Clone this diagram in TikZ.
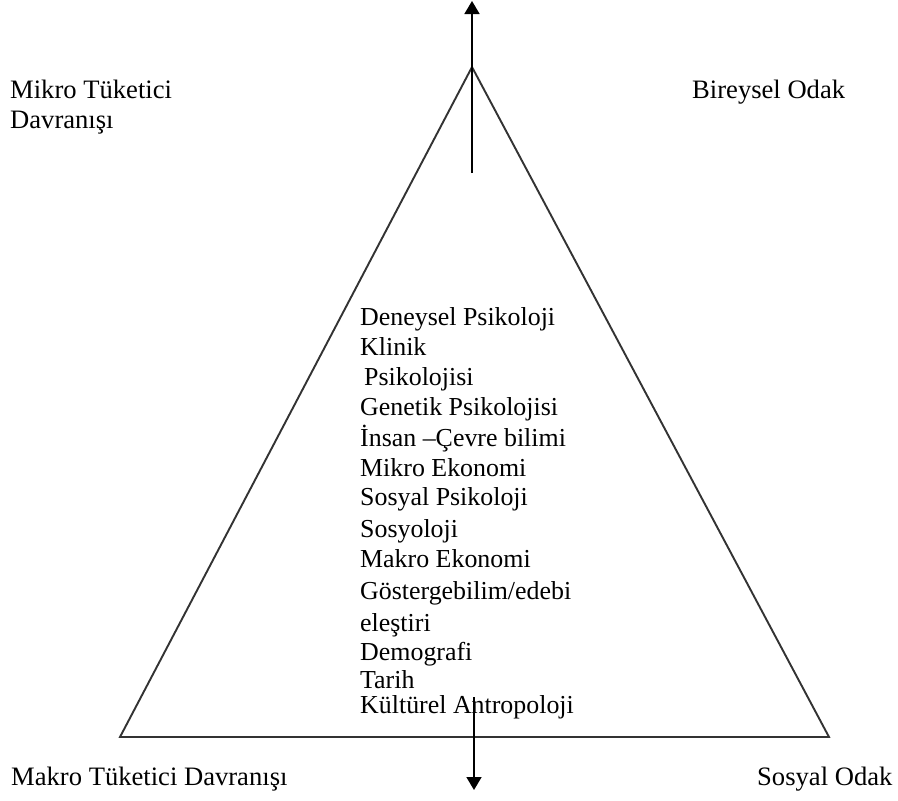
\documentclass[tikz,border=0pt]{standalone}
\usepackage{fontspec}
\setmainfont{Liberation Serif}
\usetikzlibrary{arrows.meta}
\begin{document}
\begin{tikzpicture}[x=1pt,y=-1pt,
  edge/.style={line width=1.9pt,draw=black!80},
  axis/.style={line width=1.6pt,-{Triangle[length=13pt,width=15pt]}},
  lbl/.style={anchor=base west,inner sep=0pt,font=\fontsize{26.6}{30}\selectfont},
  item/.style={anchor=base west,inner sep=0pt,font=\fontsize{25.9}{30}\selectfont}]
  \useasboundingbox[fill=white] (0,0) rectangle (898,801);

  % triangle corners
  \coordinate (apex) at (472,67);
  \coordinate (bl) at (120,737);
  \coordinate (br) at (829,737);
  \draw[edge,line join=miter] (apex) -- (bl) -- (br) -- cycle;

  % vertical axis arrows
  \coordinate (upfrom) at (472,173);
  \coordinate (upto) at (472,1);
  \coordinate (downfrom) at (474,697);
  \coordinate (downto) at (474,790);
  \draw[axis] (upfrom) -- (upto);
  \draw[axis] (downfrom) -- (downto);

  % corner labels
  \node[lbl] (mikro) at (10,98) {Mikro Tüketici};
  \node[lbl] (mikro2) at (10,128) {Davranışı};
  \node[lbl] (bireysel) at (692,98) {Bireysel Odak};
  \node[lbl] (makro) at (11,785) {Makro Tüketici Davranışı};
  \node[lbl] (sosyal) at (757,785) {Sosyal Odak};

  % disciplines, top (individual) to bottom (social)
  \foreach \y/\t [count=\i] in {
    325/{Deneysel Psikoloji},
    355/{Klinik},
    385/{\hspace*{4pt}Psikolojisi},
    415/{Genetik Psikolojisi},
    446/{İnsan –Çevre bilimi},
    476/{Mikro Ekonomi},
    505/{Sosyal Psikoloji},
    537/{Sosyoloji},
    567/{Makro Ekonomi},
    599/{Göstergebilim/edebi},
    631/{eleştiri},
    660/{Demografi},
    688/{Tarih},
    713/{Kültürel Antropoloji}}
    \node[item] (d\i) at (360,\y) {\t};
\end{tikzpicture}
\end{document}
